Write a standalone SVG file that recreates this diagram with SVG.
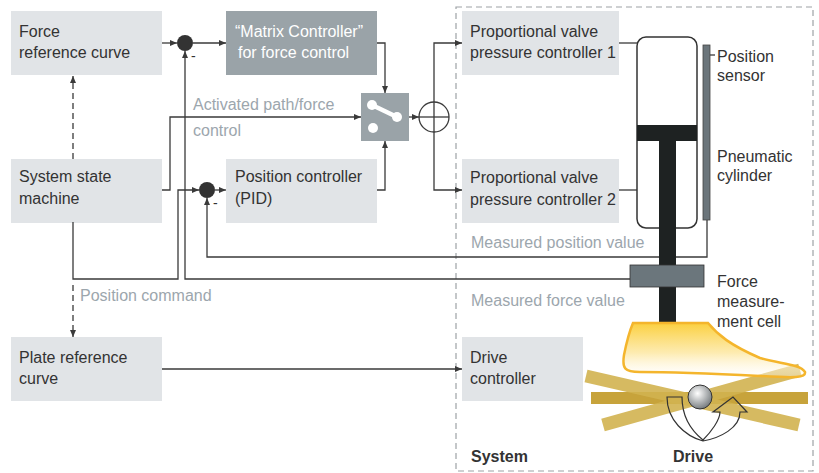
<svg xmlns="http://www.w3.org/2000/svg" width="819" height="473" viewBox="0 0 819 473">
<defs>
<style>
.box{fill:#e1e4e7}
.dark{fill:#9aa3a8}
.t{font-family:"Liberation Sans",Arial,sans-serif;font-size:16px;fill:#333}
.w{fill:#fff}
.g{fill:#9ca6ad}
.b{font-weight:bold}
.ln{fill:none;stroke:#3a3a3a;stroke-width:1.3}
.ar{marker-end:url(#ah)}
.dash{stroke-dasharray:6,4}
</style>
<marker id="ah" markerWidth="7" markerHeight="6" refX="7" refY="3" orient="auto" markerUnits="userSpaceOnUse">
<path d="M0,0 L7,3 L0,6 z" fill="#3a3a3a"/>
</marker>
<linearGradient id="foot" x1="0" y1="0" x2="0" y2="1">
<stop offset="0" stop-color="#fbd03f"/>
<stop offset="0.55" stop-color="#fde9a8" stop-opacity="0.9"/>
<stop offset="1" stop-color="#ffffff" stop-opacity="0.35"/>
</linearGradient>
<radialGradient id="ball" cx="0.4" cy="0.35" r="0.7">
<stop offset="0" stop-color="#ffffff"/>
<stop offset="1" stop-color="#6f7578"/>
</radialGradient>
</defs>
<rect width="819" height="473" fill="#fff"/>

<rect x="456" y="7" width="357" height="464" fill="none" stroke="#9da2a6" stroke-width="1.2" stroke-dasharray="6,4"/>
<text class="t b" x="471" y="462">System</text>

<g id="force-ref"><rect class="box" x="11" y="11" width="151" height="64"/><text class="t" x="19" y="37">Force</text><text class="t" x="19" y="58">reference curve</text></g>
<g id="matrix"><rect class="dark" x="226" y="11" width="151" height="64"/><text class="t w" x="235" y="37">“Matrix Controller”</text><text class="t w" x="238" y="58">for force control</text></g>
<g id="state"><rect class="box" x="11" y="159" width="151" height="64"/><text class="t" x="19" y="182">System state</text><text class="t" x="19" y="204">machine</text></g>
<g id="pid"><rect class="box" x="226" y="159" width="151" height="64"/><text class="t" x="235" y="182">Position controller</text><text class="t" x="235" y="204">(PID)</text></g>
<g id="plate"><rect class="box" x="11" y="337" width="151" height="64"/><text class="t" x="19" y="363">Plate reference</text><text class="t" x="19" y="384">curve</text></g>
<g id="valve1"><rect class="box" x="462" y="11" width="157" height="64"/><text class="t" x="470" y="37">Proportional valve</text><text class="t" x="470" y="58">pressure controller 1</text></g>
<g id="valve2"><rect class="box" x="462" y="159" width="157" height="64"/><text class="t" x="470" y="183">Proportional valve</text><text class="t" x="470" y="205">pressure controller 2</text></g>
<g id="drivectl"><rect class="box" x="462" y="337" width="121" height="64"/><text class="t" x="470" y="363">Drive</text><text class="t" x="470" y="384">controller</text></g>

<g id="switch"><rect class="dark" x="361" y="93" width="48" height="48"/><line x1="372" y1="105" x2="397" y2="117" stroke="#fff" stroke-width="4.5"/><circle cx="372" cy="105" r="5" fill="#fff"/><circle cx="397" cy="117" r="5" fill="#fff"/><circle cx="373" cy="128" r="5" fill="#fff"/></g>
<g id="plus"><circle cx="434" cy="117" r="15" fill="none" stroke="#3a3a3a" stroke-width="1.3"/><line x1="419" y1="117" x2="449" y2="117" stroke="#3a3a3a" stroke-width="1.3"/><line x1="434" y1="102" x2="434" y2="132" stroke="#3a3a3a" stroke-width="1.3"/></g>
<g id="sum1"><circle cx="185" cy="43" r="8" fill="#333"/><text class="t" x="191" y="61" style="font-size:14px">-</text></g>
<g id="sum2"><circle cx="207" cy="190" r="8" fill="#333"/><text class="t" x="213" y="208" style="font-size:14px">-</text></g>

<g id="connectors">
<path class="ln ar" d="M162,43 H177"/>
<path class="ln ar" d="M193,43 H226"/>
<path class="ln ar" d="M377,43 H385 V93"/>
<path class="ln ar" d="M377,190 H385 V141"/>
<path class="ln ar" d="M162,190 H170 V117 H361"/>
<path class="ln ar" d="M409,117 H419"/>
<path class="ln ar" d="M434,102 V43 H462"/>
<path class="ln ar" d="M434,132 V190 H462"/>
<path class="ln" d="M619,43 H638"/>
<path class="ln" d="M619,190 H637"/>
<path class="ln ar dash" d="M73,159 V76"/>
<path class="ln ar" d="M73,222 V279 H178 V190 H199"/>
<path class="ln ar" d="M215,190 H226"/>
<path class="ln ar dash" d="M73,285 V337"/>
<path class="ln ar" d="M630,279 H185 V51"/>
<path class="ln ar" d="M707,220 V257 H207 V198"/>
<path class="ln ar" d="M162,369 H462"/>
<path class="ln" d="M710,55 H715"/>
</g>

<g id="labels">
<text class="t g" x="193" y="110">Activated path/force</text>
<text class="t g" x="193" y="136">control</text>
<text class="t g" x="80" y="301">Position command</text>
<text class="t g" x="471" y="248">Measured position value</text>
<text class="t g" x="471" y="306">Measured force value</text>
</g>

<g id="cylinder">
<rect x="637" y="37" width="60" height="191" rx="9" fill="#fff" stroke="#333" stroke-width="1.5"/>
<rect x="637" y="125" width="60" height="16" fill="#1e2222"/>
<rect x="659" y="141" width="17" height="182" fill="#1e2222"/>
<text class="t" x="717" y="162">Pneumatic</text>
<text class="t" x="717" y="181">cylinder</text>
</g>
<g id="sensor">
<rect x="703" y="45" width="7" height="175" fill="#6b757b" stroke="#444" stroke-width="0.8"/>
<text class="t" x="717" y="62">Position</text>
<text class="t" x="717" y="81">sensor</text>
</g>
<g id="forcecell">
<rect x="630" y="265" width="74" height="22" fill="#6b767c" stroke="#333" stroke-width="0.8"/>
<text class="t" x="717" y="287">Force</text>
<text class="t" x="717" y="307">measure-</text>
<text class="t" x="717" y="327">ment cell</text>
</g>

<g id="drive">
<line x1="591" y1="398" x2="808" y2="398" stroke="#c7a33b" stroke-width="12"/>
<line x1="586" y1="376" x2="799" y2="425" stroke="#d2b350" stroke-width="13" opacity="0.9"/>
<line x1="603" y1="425" x2="800" y2="370" stroke="#d2b350" stroke-width="13" opacity="0.9"/>
<path d="M633,323 L708,323 C718,335 730,345 760,358 C780,364 800,364 805,372 C806,378 795,378 760,376 C720,374 680,372 640,372 C624,372 622,368 624,355 C627,340 630,330 633,323 Z" fill="url(#foot)" stroke="#f4b52c" stroke-width="2.5"/>
<circle cx="700" cy="397" r="12" fill="url(#ball)" stroke="#333" stroke-width="1"/>
<path d="M667,397 L682,397 C682,418 693,432 703,440 C711,432 720,420 720,412 L713,412 L733,397 L747,412 L740,412 C740,428 720,438 703,441 C685,436 667,420 667,397 Z" fill="none" stroke="#333" stroke-width="1.2"/>
<text class="t b" x="673" y="462">Drive</text>
</g>
</svg>
